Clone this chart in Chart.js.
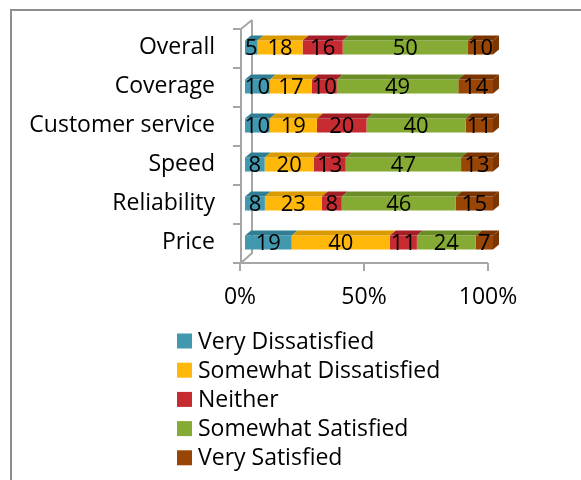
<!DOCTYPE html>
<html>
<head>
<meta charset="utf-8">
<script src="https://cdn.jsdelivr.net/npm/chart.js@4.4.0/dist/chart.umd.min.js"></script>
<style>
  html, body { margin: 0; padding: 0; background: #fff; }
  #wrap { position: relative; width: 581px; height: 480px; }
</style>
</head>
<body>
<div id="wrap"><canvas id="satisfactionChart" width="581" height="480"></canvas></div>
<script>
const categories = ['Overall', 'Coverage', 'Customer service', 'Speed', 'Reliability', 'Price'];
const seriesNames = ['Very Dissatisfied', 'Somewhat Dissatisfied', 'Neither', 'Somewhat Satisfied', 'Very Satisfied'];
const veryDissatisfied = [5, 10, 10, 8, 8, 19];
const somewhatDissatisfied = [18, 17, 19, 20, 23, 40];
const neither = [16, 10, 20, 13, 8, 11];
const somewhatSatisfied = [50, 49, 40, 47, 46, 24];
const verySatisfied = [10, 14, 11, 13, 15, 7];
const xTicks = [0, 50, 100];

const frontColors = ['#4198af', '#ffb80a', '#c52b31', '#86ab34', '#984505'];
const topColors = ['#2f7e93', '#d99b00', '#a41f26', '#6b8d26', '#7a3500'];

const FONT = '"Open Sans", sans-serif';
const series = [veryDissatisfied, somewhatDissatisfied, neither, somewhatSatisfied, verySatisfied];

// each row is shown as a share of its own total (100% stacked)
const rowTotals = categories.map((c, i) => series.reduce((s, arr) => s + arr[i], 0));

const datasets = series.map((arr, k) => ({
  label: seriesNames[k],
  data: arr.map((v, i) => v / rowTotals[i] * 100),
  raw: arr,
  backgroundColor: frontColors[k],
  topColor: topColors[k],
  borderWidth: 0,
  categoryPercentage: 1,
  barPercentage: 0.36
}));

const DX = 6, DY = 5;

// frame lines, 3D walls and axis lines
const framePlugin = {
  id: 'frame',
  beforeDatasetsDraw(chart) {
    const ctx = chart.ctx;
    const { top, bottom } = chart.chartArea;
    const xs = chart.scales.x;
    ctx.save();
    ctx.strokeStyle = '#8e8e8e';
    ctx.lineWidth = 2;
    ctx.beginPath();
    ctx.moveTo(11, 480);
    ctx.lineTo(11, 10);
    ctx.lineTo(581, 10);
    ctx.stroke();

    const x0 = xs.getPixelForValue(0) - 4;
    const floorY = bottom + 1;
    const topY = top + 1;
    ctx.strokeStyle = '#a6a6a6';
    ctx.beginPath();
    ctx.moveTo(x0 + 11, topY - 9);
    ctx.lineTo(x0 + 11, floorY - 10);
    ctx.lineTo(x0, floorY);
    ctx.moveTo(x0, topY);
    ctx.lineTo(x0 + 11, topY - 9);
    ctx.moveTo(x0, topY);
    ctx.lineTo(x0, floorY);
    ctx.lineTo(xs.getPixelForValue(100) - 5, floorY);
    // category separators on the value wall
    const band = (bottom - top) / categories.length;
    for (let i = 0; i <= categories.length; i++) {
      const y = topY + i * band;
      ctx.moveTo(x0 - 8, y);
      ctx.lineTo(x0, y);
    }
    xTicks.forEach(v => {
      const px = xs.getPixelForValue(v) - 5;
      ctx.moveTo(px, floorY);
      ctx.lineTo(px, floorY + 8);
    });
    ctx.stroke();
    ctx.restore();
  },
  afterDatasetsDraw(chart) {
    const ctx = chart.ctx;
    const n = chart.data.datasets.length;
    ctx.save();
    // top faces and the end cap of each bar
    chart.data.datasets.forEach((ds, k) => {
      chart.getDatasetMeta(k).data.forEach(bar => {
        const { x, base, y, height } = bar.getProps(['x', 'base', 'y', 'height'], true);
        const t = y - height / 2;
        ctx.fillStyle = ds.topColor;
        ctx.beginPath();
        ctx.moveTo(base, t);
        ctx.lineTo(base + DX, t - DY);
        ctx.lineTo(x + DX, t - DY);
        ctx.lineTo(x, t);
        ctx.closePath();
        ctx.fill();
        if (k === n - 1) {
          ctx.fillStyle = '#7a3500';
          ctx.beginPath();
          ctx.moveTo(x, t);
          ctx.lineTo(x + DX, t - DY);
          ctx.lineTo(x + DX, t - DY + height);
          ctx.lineTo(x, t + height);
          ctx.closePath();
          ctx.fill();
        }
      });
    });
    // value labels
    ctx.fillStyle = '#000';
    ctx.font = '22px ' + FONT;
    ctx.textAlign = 'center';
    ctx.textBaseline = 'middle';
    chart.data.datasets.forEach((ds, k) => {
      chart.getDatasetMeta(k).data.forEach((bar, i) => {
        const { x, base, y } = bar.getProps(['x', 'base', 'y'], true);
        ctx.fillText(String(ds.raw[i]), (x + base) / 2, y + 1);
      });
    });
    ctx.restore();
  },
  afterDraw(chart) {
    const ctx = chart.ctx;
    ctx.save();
    ctx.font = '23px ' + FONT;
    ctx.textAlign = 'left';
    ctx.textBaseline = 'middle';
    chart.data.datasets.forEach((ds, k) => {
      const cy = 341 + k * 29.2;
      ctx.fillStyle = ds.backgroundColor;
      ctx.fillRect(177, cy - 7.5, 15, 15);
      ctx.fillStyle = '#000';
      ctx.fillText(ds.label, 198, cy + 1);
    });
    ctx.restore();
  }
};

new Chart(document.getElementById('satisfactionChart').getContext('2d'), {
  type: 'bar',
  data: { labels: categories, datasets },
  options: {
    indexAxis: 'y',
    responsive: false,
    animation: false,
    layout: { padding: { left: 0, right: 88, top: 28, bottom: 168 } },
    plugins: { legend: { display: false }, tooltip: { enabled: false } },
    scales: {
      x: {
        stacked: true,
        min: 0,
        max: 100,
        afterBuildTicks: s => { s.ticks = xTicks.map(v => ({ value: v })); },
        afterFit: s => { s.height = 50; s.paddingLeft = 0; s.paddingRight = 0; },
        grid: { display: false, drawTicks: false },
        border: { display: false },
        ticks: {
          callback: v => v + '%',
          labelOffset: -5,
          padding: 22,
          color: '#000',
          font: { family: FONT, size: 23 }
        }
      },
      y: {
        stacked: true,
        afterFit: s => { s.width = 245; s.paddingTop = 0; s.paddingBottom = 0; },
        grid: { display: false, drawTicks: false },
        border: { display: false },
        ticks: {
          padding: 30,
          color: '#000',
          font: { family: FONT, size: 23 }
        }
      }
    }
  },
  plugins: [framePlugin]
});
</script>
</body>
</html>
